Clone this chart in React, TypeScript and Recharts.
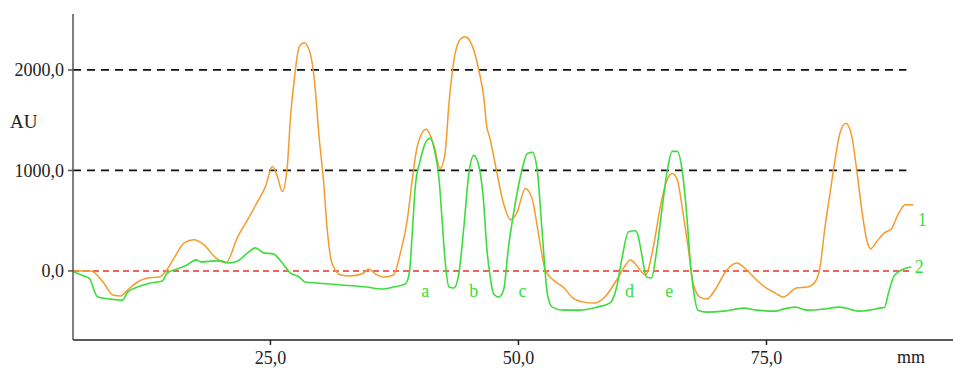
import React from 'react';
import { LineChart, Line, XAxis, YAxis, ReferenceLine, ReferenceDot } from 'recharts';

// track 1 (orange): position in mm and signal in AU
const track1Mm = [
  5.2, 6.9, 8.2, 9.1, 9.9, 10.6, 11.6, 12.6, 13.8, 14.4, 15.3, 16.3, 17.3, 18.3, 19.5, 20.5,
  21.7, 22.7, 23.7, 24.5, 25.2, 25.7, 26.2, 26.7, 27.0, 27.4, 27.9, 28.4, 29.0, 29.5, 29.9,
  30.4, 30.7, 31.2, 32.1, 33.1, 34.4, 34.9, 35.6, 36.4, 37.4, 38.1, 38.8, 39.3, 39.8, 40.7,
  41.5, 42.1, 42.6, 43.0, 43.5, 44.1, 44.6, 45.3, 46.0, 46.5, 46.8, 47.1, 47.7, 48.5, 49.2,
  49.8, 50.7, 51.4, 52.0, 52.7, 53.5, 54.5, 55.5, 56.6, 57.7, 58.7, 59.9, 60.6, 61.3, 62.1,
  62.8, 63.6, 64.3, 65.0, 65.5, 66.0, 66.6, 67.1, 67.6, 68.3, 69.0, 69.8, 71.0, 72.0, 73.0,
  74.0, 75.0, 75.9, 76.7, 78.0, 79.1, 79.9, 80.4, 80.9, 81.4, 81.9, 82.4, 83.0, 83.6, 84.1,
  84.6, 85.1, 85.5, 86.1, 86.9, 87.6, 88.3, 89.0, 89.8,
];
const track1Au = [
  0, 0, -120, -240, -250, -190, -110, -70, -60, -10, 130, 280, 310, 260, 130, 80,
  340, 510, 690, 840, 1040, 940, 790, 1040, 1500, 1900, 2230, 2270, 2170, 1830, 1340,
  840, 440, 80, -40, -50, -20, 20, -30, -60, -40, 180, 510, 910, 1240, 1410,
  1240, 1020, 1170, 1670, 2100, 2300, 2330, 2250, 2000, 1730, 1440, 1330, 1040, 670, 510,
  570, 820, 710, 380, 10, -90, -160, -270, -310, -320, -260, -90, 30, 110, 30,
  -40, 240, 640, 910, 970, 910, 570, 240, -120, -260, -280, -190, 10, 80, 10,
  -90, -170, -220, -260, -170, -160, -110, 40, 440, 770, 1100, 1370, 1470, 1340, 1000,
  610, 310, 220, 290, 380, 420, 570, 660, 660,
];

// track 2 (green)
const track2Mm = [
  5.2, 6.2, 6.7, 7.6, 8.9, 10.1, 10.6, 11.6, 12.9, 14.1, 14.6, 15.6, 16.6, 17.5, 18.0, 19.5,
  20.0, 20.8, 21.7, 22.7, 23.5, 24.3, 25.3, 26.2, 27.0, 27.9, 28.5, 29.7, 31.0, 33.6, 34.7,
  36.3, 37.4, 38.6, 39.0, 39.3, 39.6, 40.1, 40.6, 41.1, 41.6, 42.0, 42.3, 42.6, 43.0, 43.5,
  44.0, 44.5, 45.0, 45.5, 46.1, 46.5, 46.8, 47.2, 47.5, 48.0, 48.5, 49.0, 49.5, 50.2, 50.9,
  51.4, 51.9, 52.2, 52.5, 52.9, 53.4, 54.5, 56.2, 57.9, 59.2, 59.9, 60.4, 61.1, 61.8, 62.0,
  62.4, 62.9, 63.4, 63.9, 64.5, 65.0, 65.5, 66.0, 66.5, 67.0, 67.3, 67.6, 68.1, 69.0, 70.7,
  72.7, 74.0, 75.9, 76.7, 77.9, 79.1, 80.7, 82.4, 84.4, 86.4, 86.9, 87.3, 87.8, 88.3, 89.1,
  89.6,
];
const track2Au = [
  -10, -50, -70, -260, -280, -290, -210, -160, -120, -100, -20, 20, 60, 110, 90, 100,
  100, 80, 100, 180, 230, 180, 170, 80, -20, -60, -110, -120, -130, -150, -160,
  -180, -160, -130, -20, 380, 840, 1100, 1270, 1320, 1170, 910, 510, 110, -160, -170,
  -20, 440, 970, 1150, 1000, 670, 240, -90, -230, -260, -190, 240, 570, 940, 1170,
  1180, 1000, 640, 240, -220, -360, -390, -390, -360, -320, -160, 110, 390, 400, 370,
  180, -60, -70, 180, 640, 1000, 1190, 1190, 1000, 510, 110, -160, -390, -410, -400,
  -370, -390, -400, -380, -360, -390, -380, -360, -400, -370, -360, -220, -60, -10, 30,
  40,
];

const xTicks = [25, 50, 75];
const yTicks = [0, 1000, 2000];
const bandLetters = ['a', 'b', 'c', 'd', 'e'];
const bandMm = [40.6, 45.5, 50.4, 61.2, 65.2];

const track1 = track1Mm.map((mm, i) => ({ mm, au: track1Au[i] }));
const track2 = track2Mm.map((mm, i) => ({ mm, au: track2Au[i] }));

const serif = "'Liberation Serif', 'Times New Roman', 'DejaVu Serif', serif";
const green = '#3ddc3d';
const orange = '#f59b2b';
const fmt = (v: number) => v.toFixed(1).replace('.', ',');

const App = () => {
  return (
    <div style={{ position: 'absolute', left: 0, top: 0, width: 953, height: 368, background: '#fff', fontFamily: serif }}>
      <LineChart width={953} height={368} margin={{ top: 14, right: 0, bottom: 0, left: 0 }} style={{ fontFamily: serif }}>
        <XAxis
          dataKey="mm"
          type="number"
          domain={[5.1, 93.8]}
          ticks={xTicks}
          tickFormatter={fmt}
          allowDataOverflow
          height={28}
          stroke="#222"
          strokeWidth={1.5}
          tickSize={5}
          tickMargin={6}
          tick={{ fill: '#222', fontSize: 18, fontFamily: serif }}
        />
        <YAxis
          type="number"
          domain={[-687, 2557]}
          ticks={yTicks}
          tickFormatter={fmt}
          allowDataOverflow
          width={73}
          stroke="#555"
          strokeWidth={1.5}
          tickSize={5}
          tickMargin={4}
          tick={{ fill: '#222', fontSize: 18, fontFamily: serif }}
        />
        <ReferenceLine segment={[{ x: 5.1, y: 2000 }, { x: 89.1, y: 2000 }]} stroke="#111" strokeWidth={1.8} strokeDasharray="8 6" />
        <ReferenceLine segment={[{ x: 5.1, y: 1000 }, { x: 89.1, y: 1000 }]} stroke="#111" strokeWidth={1.8} strokeDasharray="8 6" />
        <ReferenceLine segment={[{ x: 5.1, y: 0 }, { x: 89.6, y: 0 }]} stroke="#e8322e" strokeWidth={1.5} strokeDasharray="6 4" />
        <Line data={track1} dataKey="au" type="monotone" stroke={orange} strokeWidth={1.5} dot={false} isAnimationActive={false} />
        <Line data={track2} dataKey="au" type="monotone" stroke={green} strokeWidth={1.6} dot={false} isAnimationActive={false} />
        {bandLetters.map((t, i) => (
          <ReferenceDot
            key={t}
            x={bandMm[i]}
            y={-200}
            r={0}
            fill="none"
            stroke="none"
            label={{ value: t, position: 'center', fill: green, fontSize: 18, fontFamily: serif }}
          />
        ))}
        <ReferenceDot x={90.7} y={510} r={0} fill="none" stroke="none" ifOverflow="visible"
          label={{ value: '1', position: 'center', fill: green, fontSize: 18, fontFamily: serif }} />
        <ReferenceDot x={90.4} y={40} r={0} fill="none" stroke="none" ifOverflow="visible"
          label={{ value: '2', position: 'center', fill: green, fontSize: 18, fontFamily: serif }} />
      </LineChart>
      <div style={{ position: 'absolute', left: 10, top: 111, fontSize: 19, color: '#222' }}>AU</div>
      <div style={{ position: 'absolute', left: 897, top: 347, fontSize: 18, color: '#222' }}>mm</div>
    </div>
  );
};

export default App;
